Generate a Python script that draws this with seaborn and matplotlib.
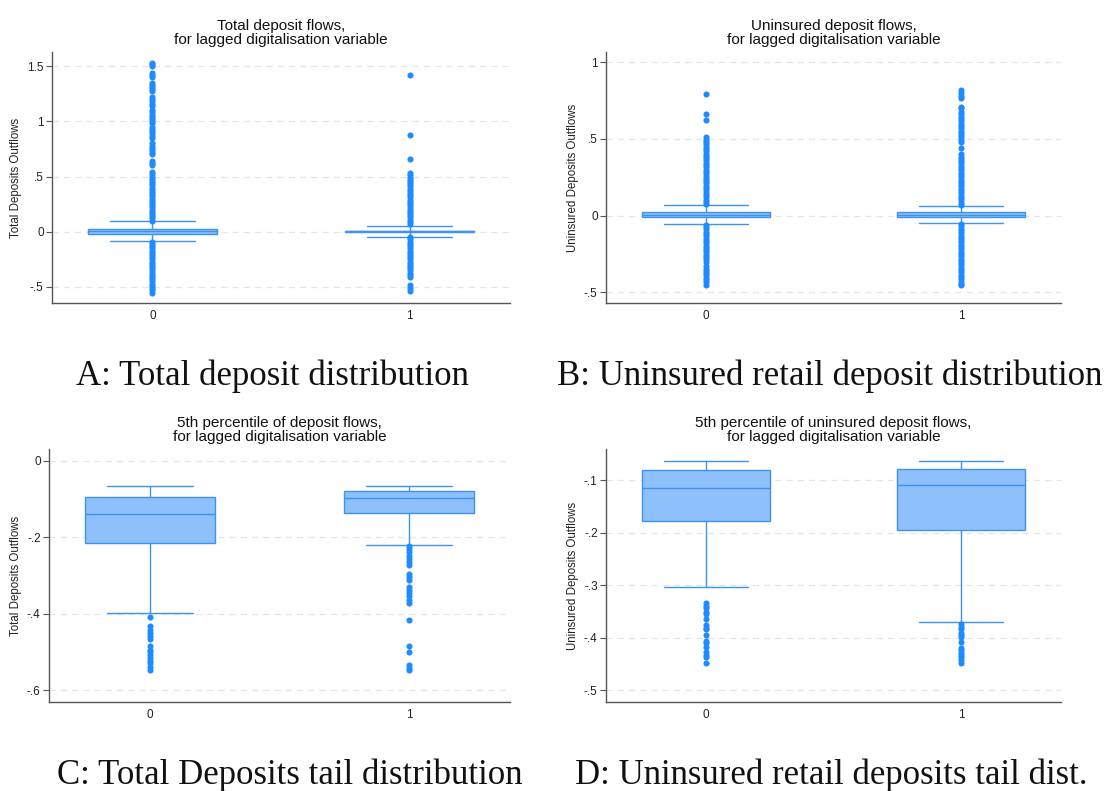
import numpy as np
import pandas as pd
import matplotlib
matplotlib.use("Agg")
import matplotlib.pyplot as plt
import seaborn as sns

sns.set_theme(style="white")
plt.rcParams["font.family"] = ["Liberation Sans", "DejaVu Sans"]

# ---------------- data ----------------
groups = ["0", "1"]

# Panel A: total deposit flows
a_lo = [-0.087, -0.045]
a_q1 = [-0.018, 0.000]
a_med = [0.003, 0.004]
a_q3 = [0.024, 0.008]
a_hi = [0.097, 0.054]
a_out0 = [1.53, 1.515, 1.50, 1.44, 1.42, 1.40, 1.35, 1.33, 1.31, 1.29, 1.27,
          1.22, 1.20, 1.18, 1.16, 1.14, 1.10, 1.08, 1.06, 1.04, 1.02, 1.00, 0.98,
          0.95, 0.93, 0.91, 0.89, 0.87, 0.85, 0.80, 0.78, 0.76, 0.74, 0.72, 0.70,
          0.64, 0.62, 0.60, 0.54, 0.52, 0.50, 0.48, 0.46, 0.44, 0.42, 0.40, 0.38,
          0.36, 0.34, 0.32, 0.30, 0.28, 0.26, 0.24, 0.22, 0.20, 0.18, 0.16, 0.14,
          0.12, 0.10,
          -0.09, -0.11, -0.13, -0.15, -0.17, -0.19, -0.21, -0.23, -0.25, -0.27,
          -0.29, -0.31, -0.33, -0.35, -0.37, -0.39, -0.41, -0.43, -0.45, -0.47,
          -0.49, -0.51, -0.53, -0.55]
a_out1 = [1.42, 0.88, 0.66, 0.53, 0.51, 0.49, 0.47, 0.45, 0.43, 0.41, 0.39,
          0.37, 0.35, 0.33, 0.31, 0.29, 0.27, 0.25, 0.23, 0.21, 0.19, 0.17, 0.15,
          0.13, 0.11, 0.09, 0.07,
          -0.05, -0.07, -0.09, -0.11, -0.13, -0.15, -0.17, -0.19, -0.21, -0.23,
          -0.25, -0.27, -0.29, -0.31, -0.33, -0.35, -0.37, -0.39, -0.41,
          -0.48, -0.51, -0.54]

# Panel B: uninsured deposit flows
b_lo = [-0.057, -0.050]
b_q1 = [-0.011, -0.011]
b_med = [0.004, 0.004]
b_q3 = [0.022, 0.022]
b_hi = [0.067, 0.061]
b_out0 = [0.79, 0.66, 0.625, 0.51, 0.495, 0.48, 0.465, 0.45, 0.435, 0.42,
          0.405, 0.39, 0.375, 0.36, 0.345, 0.33, 0.315, 0.30, 0.285, 0.27, 0.255,
          0.24, 0.225, 0.21, 0.195, 0.18, 0.165, 0.15, 0.135, 0.12, 0.105, 0.09,
          0.075,
          -0.06, -0.075, -0.09, -0.105, -0.12, -0.135, -0.15, -0.165, -0.18,
          -0.195, -0.21, -0.225, -0.24, -0.255, -0.27, -0.285, -0.30, -0.33,
          -0.345, -0.36, -0.375, -0.39, -0.405, -0.42, -0.435, -0.45]
b_out1 = [0.82, 0.80, 0.78, 0.765, 0.71, 0.70, 0.675, 0.66, 0.645, 0.63,
          0.615, 0.60, 0.585, 0.57, 0.555, 0.54, 0.525, 0.51, 0.495, 0.48, 0.443,
          0.40, 0.385, 0.37, 0.355, 0.34, 0.325, 0.31, 0.295, 0.28, 0.265, 0.25,
          0.235, 0.22, 0.205, 0.19, 0.175, 0.16, 0.145, 0.13, 0.115, 0.10, 0.085,
          0.07,
          -0.055, -0.07, -0.085, -0.10, -0.115, -0.13, -0.145, -0.16, -0.175,
          -0.19, -0.205, -0.22, -0.235, -0.25, -0.265, -0.28, -0.295, -0.31,
          -0.325, -0.34, -0.355, -0.37, -0.385, -0.40, -0.415, -0.43, -0.445,
          -0.45]

# Panel C: 5th percentile of total deposit flows
c_lo = [-0.397, -0.219]
c_q1 = [-0.2145, -0.136]
c_med = [-0.138, -0.096]
c_q3 = [-0.094, -0.079]
c_hi = [-0.0654, -0.065]
c_out0 = [-0.408, -0.432, -0.443, -0.451, -0.459, -0.467, -0.484, -0.495,
          -0.501, -0.508, -0.517, -0.523, -0.530, -0.539, -0.548]
c_out1 = [-0.222, -0.230, -0.238, -0.249, -0.257, -0.265, -0.273, -0.296,
          -0.304, -0.312, -0.330, -0.337, -0.345, -0.354, -0.363, -0.371,
          -0.417, -0.485, -0.501, -0.535, -0.541, -0.546]

# Panel D: 5th percentile of uninsured deposit flows
d_lo = [-0.3029, -0.370]
d_q1 = [-0.1786, -0.1945]
d_med = [-0.1158, -0.110]
d_q3 = [-0.0803, -0.0784]
d_hi = [-0.0632, -0.0632]
d_out0 = [-0.3345, -0.3396, -0.344, -0.3517, -0.3555, -0.3643, -0.3757,
          -0.3808, -0.384, -0.3948, -0.4055, -0.4106, -0.4182, -0.4265,
          -0.4328, -0.436, -0.4487]
d_out1 = [-0.3739, -0.3789, -0.384, -0.390, -0.3948, -0.3992, -0.4074,
          -0.4189, -0.4233, -0.4284, -0.4328, -0.4372, -0.4423, -0.4474]

titles = ["Total deposit flows,\nfor lagged digitalisation variable",
          "Uninsured deposit flows,\nfor lagged digitalisation variable",
          "5th percentile of deposit flows,\nfor lagged digitalisation variable",
          "5th percentile of uninsured deposit flows,\nfor lagged digitalisation variable"]
ylabels = ["Total Deposits Outflows", "Uninsured Deposits Outflows",
           "Total Deposits Outflows", "Uninsured Deposits Outflows"]
captions = ["A: Total deposit distribution",
            "B: Uninsured retail deposit distribution",
            "C: Total Deposits tail distribution",
            "D: Uninsured retail deposits tail dist."]

a_ticks = [-0.5, 0, 0.5, 1, 1.5]
a_ticklabels = ["-.5", "0", ".5", "1", "1.5"]
b_ticks = [-0.5, 0, 0.5, 1]
b_ticklabels = ["-.5", "0", ".5", "1"]
c_ticks = [-0.6, -0.4, -0.2, 0]
c_ticklabels = ["-.6", "-.4", "-.2", "0"]
d_ticks = [-0.5, -0.4, -0.3, -0.2, -0.1]
d_ticklabels = ["-.5", "-.4", "-.3", "-.2", "-.1"]

# ---------------- styling ----------------
W, H = 1107, 791
BOX_FILL = "#8EC1FB"
BOX_EDGE = "#3E92F3"
DOT = "#1E8CFF"

panels = [
    dict(stats=(a_lo, a_q1, a_med, a_q3, a_hi), out=(a_out0, a_out1),
         ticks=a_ticks, labels=a_ticklabels, ylim=(-0.645, 1.627),
         rect=(52, 52, 510, 303)),
    dict(stats=(b_lo, b_q1, b_med, b_q3, b_hi), out=(b_out0, b_out1),
         ticks=b_ticks, labels=b_ticklabels, ylim=(-0.57, 1.067),
         rect=(606, 52, 1061, 303)),
    dict(stats=(c_lo, c_q1, c_med, c_q3, c_hi), out=(c_out0, c_out1),
         ticks=c_ticks, labels=c_ticklabels, ylim=(-0.631, 0.031),
         rect=(49, 449, 510, 702)),
    dict(stats=(d_lo, d_q1, d_med, d_q3, d_hi), out=(d_out0, d_out1),
         ticks=d_ticks, labels=d_ticklabels, ylim=(-0.522, -0.041),
         rect=(606, 449, 1061, 702)),
]

fig = plt.figure(figsize=(W / 100, H / 100), dpi=100)

for i, p in enumerate(panels):
    x0, y0, x1, y1 = p["rect"]
    ax = fig.add_axes([x0 / W, 1 - y1 / H, (x1 - x0) / W, (y1 - y0) / H])

    # five-number summary per group; whiskers span min..max of these values
    rows = []
    for g, vals in zip(groups, zip(*p["stats"])):
        for v in vals:
            rows.append((g, v))
    box_df = pd.DataFrame(rows, columns=["group", "value"])

    out_rows = [(g, v) for g, vs in zip(groups, p["out"]) for v in vs]
    out_df = pd.DataFrame(out_rows, columns=["group", "value"])

    sns.boxplot(data=box_df, x="group", y="value", order=groups, ax=ax,
                whis=(0, 100), showfliers=False, width=0.5, capwidths=0.33,
                color=BOX_FILL, linecolor=BOX_EDGE, linewidth=1.0,
                saturation=1)
    sns.stripplot(data=out_df, x="group", y="value", order=groups, ax=ax,
                  jitter=False, size=4.4, color=DOT, linewidth=0, zorder=3)

    ax.set_xlim(-0.39, 1.39)
    ax.set_ylim(*p["ylim"])
    ax.set_yticks(p["ticks"])
    ax.set_yticklabels(p["labels"])
    ax.yaxis.grid(True, color="#E6E6E6", linestyle=(0, (5, 4)), linewidth=0.9)
    ax.xaxis.grid(False)
    ax.set_axisbelow(True)
    for s in ["top", "right"]:
        ax.spines[s].set_visible(False)
    for s in ["left", "bottom"]:
        ax.spines[s].set_color("#555555")
        ax.spines[s].set_linewidth(1.0)
    ax.tick_params(axis="y", length=4, width=0.8, color="#555555",
                   labelsize=8.5, pad=2, left=True, labelcolor="#222222")
    ax.tick_params(axis="x", length=0, labelsize=8.5, pad=5,
                   labelcolor="#222222")
    ax.set_xlabel("")
    ax.set_ylabel(ylabels[i], fontsize=8.3, color="#222222", labelpad=3.5)
    ax.set_title(titles[i], fontsize=11, color="#111111", pad=6,
                 linespacing=1.0)

cap_font = ["Liberation Serif", "DejaVu Serif"]
cap_pos = [(272, 385), (830, 385), (290, 784), (831, 784)]
for (cx, cy), text in zip(cap_pos, captions):
    fig.text(cx / W, 1 - cy / H, text, ha="center", va="baseline",
             fontsize=25, family=cap_font, color="#111111")

fig.savefig("out.png", dpi=100, facecolor="white")
